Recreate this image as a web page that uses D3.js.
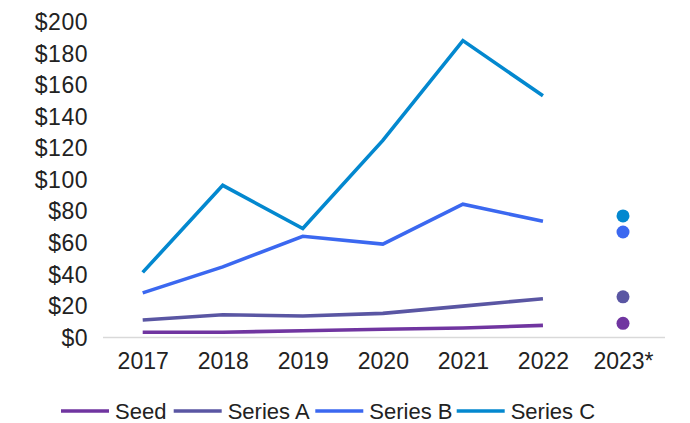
<!DOCTYPE html>
<html><head><meta charset="utf-8">
<script src="https://cdn.jsdelivr.net/npm/d3@7"></script>
<style>
html,body{margin:0;padding:0;background:#fff;}
svg{display:block;font-family:"Liberation Sans",Arial,sans-serif;}
</style></head>
<body><svg id="c" width="690" height="423"></svg>
<script>
const years = ["2017","2018","2019","2020","2021","2022","2023*"];
const seriesNames = ["Seed","Series A","Series B","Series C"];
const seriesColors = ["#7035a0","#5a56a3","#3b68f0","#0388cf"];
const seed    = [3, 3, 4, 4.9, 5.7, 7.4, 8.7];
const seriesA = [10.8, 14.1, 13.3, 15, 19.6, 24.3, 25.5];
const seriesB = [28, 44.5, 63.9, 58.9, 84.2, 73.4, 66.6];
const seriesC = [41, 96.2, 68.8, 124.7, 188, 153, 76.8];
const yTicks = [0,20,40,60,80,100,120,140,160,180,200];

const allValues = [seed, seriesA, seriesB, seriesC];
const svg = d3.select("#c");
const x = d3.scalePoint().domain(years).range([142.7, 623]);
const y = d3.scaleLinear().domain([0, 200]).range([337, 21.7]);

// baseline
svg.append("line").attr("x1",103).attr("x2",665).attr("y1",337.5).attr("y2",337.5)
  .attr("stroke","#d9d9d9").attr("stroke-width",1.5);

// y axis
const yAxis = d3.axisLeft(y).tickValues(yTicks).tickFormat(d=>"$"+d).tickSize(0).tickPadding(0);
const gy = svg.append("g").attr("transform","translate(88,0)").call(yAxis);
gy.select(".domain").remove();
gy.selectAll("text").attr("font-size",23).attr("fill","#222").attr("font-family","Liberation Sans, Arial, sans-serif")
  .attr("dy","0.35em").attr("letter-spacing","0.5px");

// x axis
const xAxis = d3.axisBottom(x).tickSize(0).tickPadding(0);
const gx = svg.append("g").attr("transform","translate(0,353)").call(xAxis);
gx.select(".domain").remove();
gx.selectAll("text").attr("font-size",23).attr("fill","#222").attr("font-family","Liberation Sans, Arial, sans-serif").attr("dy","0.71em");

// lines (2017-2022), dots 2023
const line = d3.line().x((d,i)=>x(years[i])).y(d=>y(d));
allValues.forEach((vals,k)=>{
  const lineVals = vals.slice(0,6);
  svg.append("path").datum(lineVals).attr("d",line).attr("fill","none")
    .attr("stroke",seriesColors[k]).attr("stroke-width",3.6).attr("stroke-linejoin","miter");
  svg.append("circle").attr("cx",x(years[6])).attr("cy",y(vals[6])).attr("r",6.5)
    .attr("fill",seriesColors[k]);
});

// legend
const legendX = [64, 176.7, 318.3, 459.7];
seriesNames.forEach((n,k)=>{
  const g = svg.append("g").attr("transform",`translate(${legendX[k]},411)`);
  g.append("line").attr("x1",-3).attr("x2",45).attr("y1",0).attr("y2",0)
    .attr("stroke",seriesColors[k]).attr("stroke-width",3.6);
  g.append("text").attr("x",51).attr("y",0).attr("dy","0.35em").attr("font-size",22)
    .attr("fill","#222").text(n);
});
</script></body></html>
